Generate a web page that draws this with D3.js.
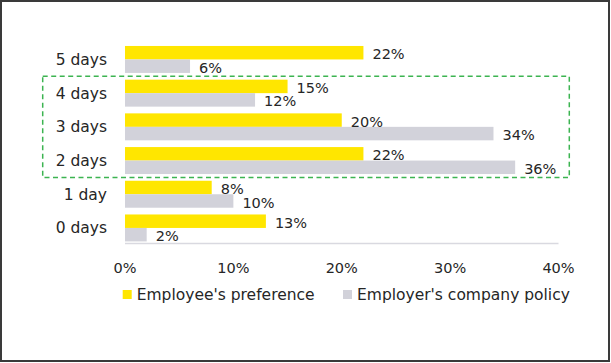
<!DOCTYPE html>
<html lang="en">
<head>
    <meta charset="UTF-8">
    <title>Office days</title>
    <style>
        body { margin: 0; background: #fff; }
        svg text { font-family: "DejaVu Sans", sans-serif; fill: #262626; }
    </style>
</head>
<body>
    <svg class="chart"></svg>

    <script src="https://cdnjs.cloudflare.com/ajax/libs/d3/7.8.5/d3.min.js"></script>
    <script>

    // data
    const categories = ['5 days', '4 days', '3 days', '2 days', '1 day', '0 days'];
    const preference = [22, 15, 20, 22, 8, 13];
    const policy = [6, 12, 34, 36, 10, 2];
    const seriesNames = ["Employee's preference", "Employer's company policy"];
    const xTicks = [0, 10, 20, 30, 40];
    const highlighted = ['4 days', '3 days', '2 days'];

    const colors = ['#ffe600', '#d2d2da'];

    const chartWidth = 611,
          chartHeight = 363;

    const svg = d3.select('.chart')
                    .attr('width', chartWidth)
                    .attr('height', chartHeight);

    // outer frame
    svg.append('rect')
        .attr('x', 1).attr('y', 1)
        .attr('width', 608).attr('height', 360)
        .attr('fill', 'none')
        .attr('stroke', '#3a3a3a')
        .attr('stroke-width', 2);

    const xScale = d3.scaleLinear().domain([0, 40]).range([125, 558.5]);

    const yScale = d3.scaleBand()
                    .domain(categories)
                    .range([42.6, 244.8])
                    .paddingInner(0.2)
                    .paddingOuter(0.1);

    const sub = d3.scaleBand().domain([0, 1]).range([0, yScale.bandwidth()]);

    const rows = categories.map((c, i) => ({cat: c, vals: [preference[i], policy[i]]}));

    // axis line at the bottom
    svg.append('line')
        .attr('x1', xScale(0)).attr('x2', xScale(40))
        .attr('y1', 243.5).attr('y2', 243.5)
        .attr('stroke', '#d9d9e0')
        .attr('stroke-width', 1.5);

    const groups = svg.selectAll('.row')
                    .data(rows)
                    .enter().append('g')
                    .attr('class', 'row')
                    .attr('transform', d => `translate(0, ${yScale(d.cat)})`);

    groups.selectAll('rect')
        .data(d => d.vals)
        .enter().append('rect')
        .attr('x', xScale(0))
        .attr('y', (v, j) => sub(j))
        .attr('width', v => xScale(v) - xScale(0))
        .attr('height', sub.bandwidth())
        .attr('fill', (v, j) => colors[j]);

    groups.selectAll('.val')
        .data(d => d.vals)
        .enter().append('text')
        .attr('class', 'val')
        .attr('x', v => xScale(v) + 9)
        .attr('y', (v, j) => sub(j) + sub.bandwidth() / 2 + 1.5)
        .attr('dy', '0.35em')
        .style('font-size', '14.5px')
        .text(v => v + '%');

    // category labels
    svg.selectAll('.cat')
        .data(categories)
        .enter().append('text')
        .attr('class', 'cat')
        .attr('x', 107)
        .attr('y', d => yScale(d) + yScale.bandwidth() / 2)
        .attr('dy', '0.35em')
        .attr('text-anchor', 'end')
        .style('font-size', '15.5px')
        .text(d => d);

    // x tick labels
    svg.selectAll('.tick')
        .data(xTicks)
        .enter().append('text')
        .attr('class', 'tick')
        .attr('x', d => xScale(d))
        .attr('y', 268)
        .attr('dy', '0.35em')
        .attr('text-anchor', 'middle')
        .style('font-size', '14.5px')
        .text(d => d + '%');

    // dashed highlight box round the 2-4 day rows
    const pad = (yScale.step() - yScale.bandwidth()) / 2;
    const hTop = yScale(highlighted[0]) - pad,
          hBottom = yScale(highlighted[highlighted.length - 1]) + yScale.bandwidth() + pad;
    svg.append('rect')
        .attr('x', 42.7).attr('y', hTop)
        .attr('width', 569.3 - 42.7).attr('height', hBottom - hTop)
        .attr('fill', 'none')
        .attr('stroke', '#3cb451')
        .attr('stroke-width', 1.5)
        .attr('stroke-dasharray', '5,3.5');

    // legend
    const legendX = [122.7, 343];
    const legend = svg.selectAll('.legend')
                    .data(seriesNames)
                    .enter().append('g')
                    .attr('class', 'legend')
                    .attr('transform', (d, i) => `translate(${legendX[i]}, 290)`);

    legend.append('rect')
        .attr('width', 9).attr('height', 9)
        .attr('fill', (d, i) => colors[i]);

    legend.append('text')
        .attr('x', 14)
        .attr('y', 5)
        .attr('dy', '0.35em')
        .style('font-size', '15.5px')
        .text(d => d);

    </script>
</body>
</html>
